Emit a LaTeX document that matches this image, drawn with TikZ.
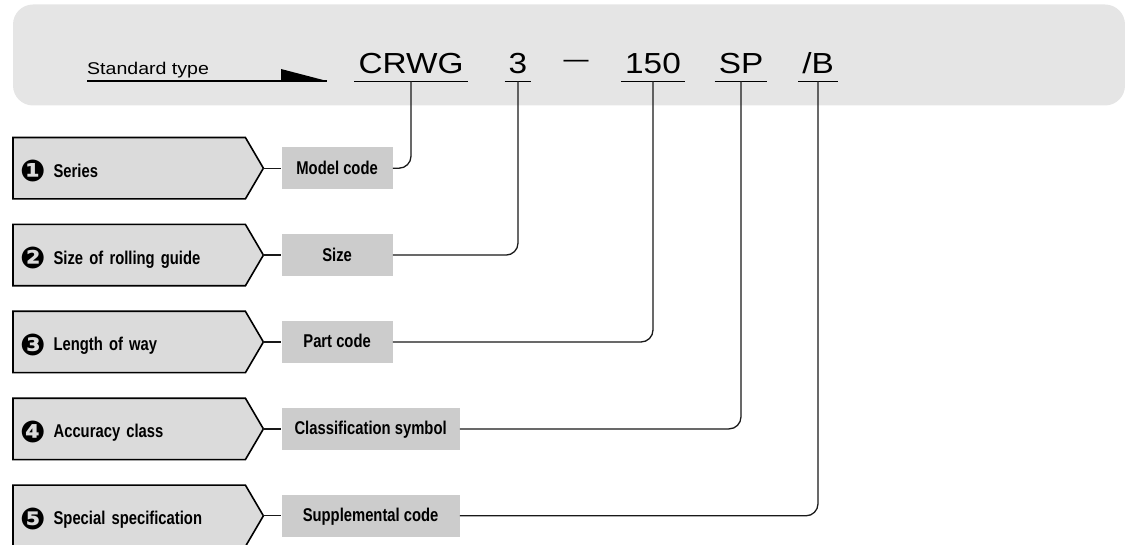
\documentclass[tikz,border=0pt]{standalone}
\usepackage{fontspec}
\setmainfont{Liberation Sans}
\newfontfamily\widefont{Liberation Sans}[FakeStretch=1.15]
\newfontfamily\narrowfont{Liberation Sans}[FakeStretch=0.8]
\newfontfamily\dingfont{DejaVu Sans}
\usetikzlibrary{positioning,backgrounds}
\definecolor{bandgray}{gray}{0.898}
\definecolor{specgray}{gray}{0.86}
\definecolor{taggray}{gray}{0.80}
\newcommand{\numdot}[1]{\raisebox{-4.5pt}{\dingfont\fontsize{30}{30}\selectfont #1}}

\begin{document}
\begin{tikzpicture}[
  x=1pt, y=-1pt,
  node distance=25.5pt,
  stdtype/.style={anchor=base west, inner sep=0pt, font=\widefont\fontsize{17}{18}\selectfont},
  code/.style={anchor=base, text depth=0pt, inner xsep=4pt, inner ysep=7pt,
               font=\widefont\fontsize{29}{30}\selectfont},
  dashmark/.style={anchor=base, inner sep=0pt, font=\fontsize{25}{25}\selectfont},
  spec/.style={rectangle, minimum width=250pt, minimum height=61pt, text width=236pt,
               inner xsep=7pt, inner ysep=0pt, text height=18pt, text depth=0pt, align=left,
               font=\narrowfont\bfseries\fontsize{18.5}{19}\selectfont},
  specshape/.style={draw=black, fill=specgray, line width=1.6pt},
  tag/.style={rectangle, fill=taggray, minimum height=42pt, inner sep=0pt,
              text height=12pt, text depth=0pt, align=center,
              font=\narrowfont\bfseries\fontsize{18.5}{19}\selectfont},
  uline/.style={line width=1.3pt},
  link/.style={line width=1.3pt, black!90}
]
\useasboundingbox (0,0) rectangle (1125,545);
\fill[bandgray, rounded corners=20pt] (13,4.5) rectangle (1125,105.5);

% standard type line
\node[stdtype] (std) at (87,75) {Standard type};
\coordinate (stdend) at (327,81);
\draw[uline] (std.base west |- stdend) -- (stdend);
\fill (stdend) -- ++(-46,0) -- ++(0,-12) -- cycle;

% code parts
\node[code] (crwg) at (411,74) {CRWG};
\node[code] (size) at (518,74) {3};
\node[dashmark] (dash) at (576,68) {—};
\node[code] (part) at (653,74) {150};
\node[code] (cls) at (741,74) {SP};
\node[code] (supp) at (818,74) {/B};
\foreach \c in {crwg,size,part,cls,supp}
  \draw[uline] (\c.south west) -- (\c.south east);

% items
\node[spec, anchor=north west] (s1) at (13,137.5) {\numdot{❶}\hspace{8pt}Series};
\node[spec, below=of s1] (s2) {\numdot{❷}\hspace{8pt}Size of rolling guide};
\node[spec, below=of s2] (s3) {\numdot{❸}\hspace{8pt}Length of way};
\node[spec, below=of s3] (s4) {\numdot{❹}\hspace{8pt}Accuracy class};
\node[spec, below=of s4] (s5) {\numdot{❺}\hspace{8pt}Special specification};
\begin{scope}[on background layer]
\foreach \s in {s1,s2,s3,s4,s5}
  \draw[specshape] (\s.north west) -- ([xshift=-18pt]\s.north east) -- (\s.east)
    -- ([xshift=-18pt]\s.south east) -- (\s.south west) -- cycle;
\end{scope}

\node[tag, minimum width=111pt, right=18pt of s1] (t1) {Model code};
\node[tag, minimum width=111pt, right=18pt of s2] (t2) {Size};
\node[tag, minimum width=111pt, right=18pt of s3] (t3) {Part code};
\node[tag, minimum width=178pt, right=18pt of s4] (t4) {Classification symbol};
\node[tag, minimum width=178pt, right=18pt of s5] (t5) {Supplemental code};

\foreach \s/\t/\c in {s1/t1/crwg, s2/t2/size, s3/t3/part, s4/t4/cls, s5/t5/supp} {
  \draw[link] (\s.east) -- (\t.west);
  \draw[link, rounded corners=12pt] (\t.east) -| (\c.south);
}
\end{tikzpicture}
\end{document}
